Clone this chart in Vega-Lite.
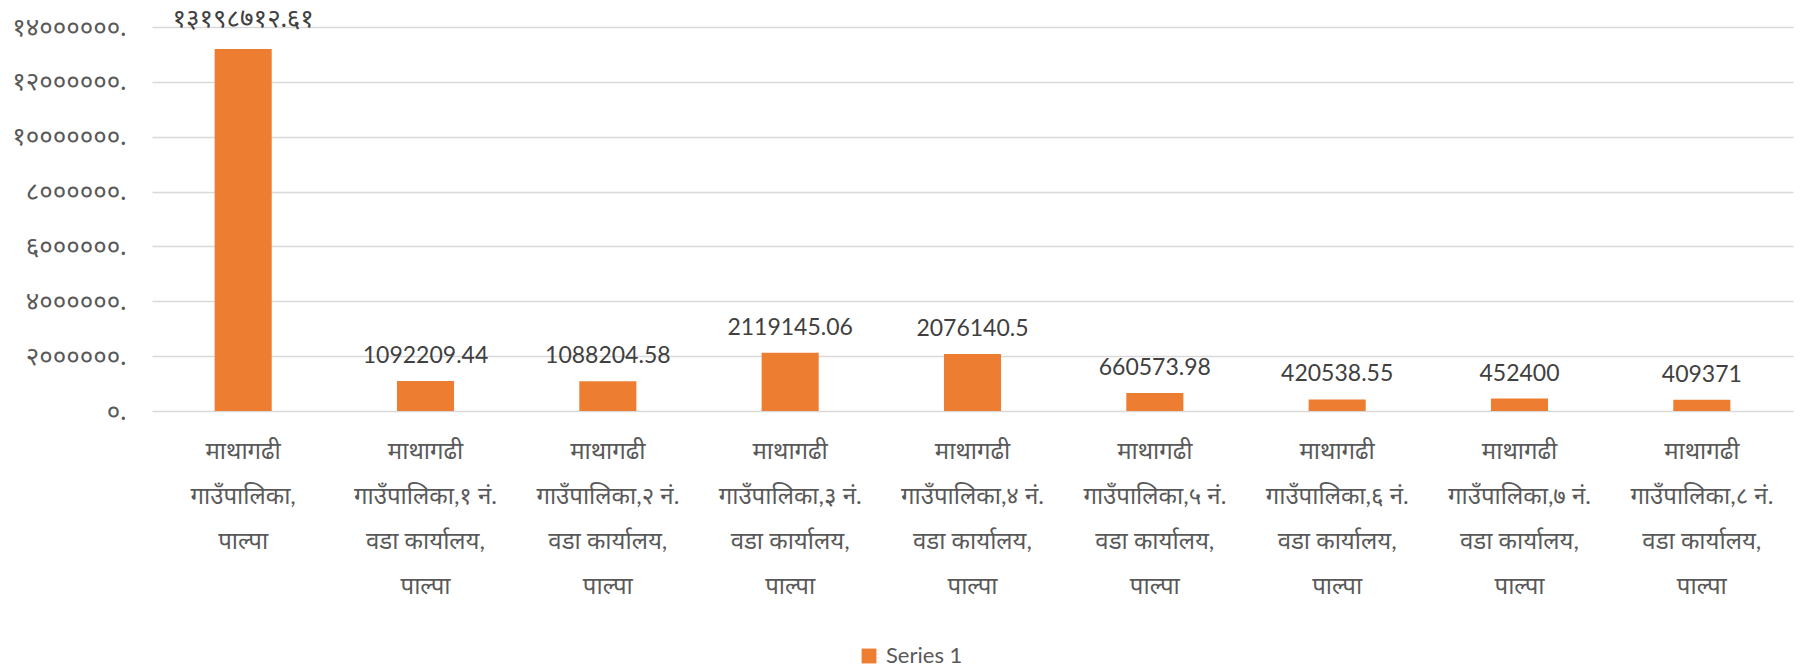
{
  "$schema": "https://vega.github.io/schema/vega-lite/v6.json",
  "autosize": "none",
  "width": 1641,
  "height": 384,
  "padding": {"left": 152, "top": 27, "right": 20, "bottom": 260},
  "background": "white",
  "config": {
    "font": "Lato, Noto Sans, sans-serif",
    "view": {"stroke": null}
  },
  "data": {
    "values": [
      {"office": "माथागढी\nगाउँपालिका,\nपाल्पा", "amount": 13198712.61, "label": "१३१९८७१२.६१"},
      {"office": "माथागढी\nगाउँपालिका,१ नं.\nवडा कार्यालय,\nपाल्पा", "amount": 1092209.44, "label": "1092209.44"},
      {"office": "माथागढी\nगाउँपालिका,२ नं.\nवडा कार्यालय,\nपाल्पा", "amount": 1088204.58, "label": "1088204.58"},
      {"office": "माथागढी\nगाउँपालिका,३ नं.\nवडा कार्यालय,\nपाल्पा", "amount": 2119145.06, "label": "2119145.06"},
      {"office": "माथागढी\nगाउँपालिका,४ नं.\nवडा कार्यालय,\nपाल्पा", "amount": 2076140.5, "label": "2076140.5"},
      {"office": "माथागढी\nगाउँपालिका,५ नं.\nवडा कार्यालय,\nपाल्पा", "amount": 660573.98, "label": "660573.98"},
      {"office": "माथागढी\nगाउँपालिका,६ नं.\nवडा कार्यालय,\nपाल्पा", "amount": 420538.55, "label": "420538.55"},
      {"office": "माथागढी\nगाउँपालिका,७ नं.\nवडा कार्यालय,\nपाल्पा", "amount": 452400, "label": "452400"},
      {"office": "माथागढी\nगाउँपालिका,८ नं.\nवडा कार्यालय,\nपाल्पा", "amount": 409371, "label": "409371"}
    ]
  },
  "encoding": {
    "x": {
      "field": "office",
      "type": "nominal",
      "sort": null,
      "scale": {"paddingInner": 0.687, "paddingOuter": 0.3435},
      "axis": {
        "title": null,
        "domain": false,
        "ticks": false,
        "labelAngle": 0,
        "labelFontSize": 24,
        "labelColor": "#595959",
        "labelPadding": 40,
        "labelLimit": 0,
        "labelLineHeight": 45,
        "labelOverlap": false,
        "labelBaseline": "middle",
        "labelExpr": "split(datum.label, '\\n')"
      }
    },
    "y": {
      "field": "amount",
      "type": "quantitative",
      "scale": {"domain": [0, 14000000], "nice": false},
      "axis": {
        "title": null,
        "domain": false,
        "ticks": false,
        "values": [0, 2000000, 4000000, 6000000, 8000000, 10000000, 12000000, 14000000],
        "labelFontSize": 26,
        "labelColor": "#595959",
        "labelPadding": 26,
        "gridColor": "#d9d9d9",
        "gridWidth": 1.5,
        "labelExpr": "replace(replace(replace(replace(replace(replace(replace(replace(replace(replace(format(datum.value,'d') + '.', regexp('0','g'), '०'), regexp('1','g'), '१'), regexp('2','g'), '२'), regexp('3','g'), '३'), regexp('4','g'), '४'), regexp('5','g'), '५'), regexp('6','g'), '६'), regexp('7','g'), '७'), regexp('8','g'), '८'), regexp('9','g'), '९')"
      }
    }
  },
  "layer": [
    {
      "mark": {"type": "bar"},
      "encoding": {
        "color": {
          "datum": "Series 1",
          "type": "nominal",
          "scale": {"range": ["#ED7D31"]},
          "legend": {
            "title": null,
            "orient": "none",
            "legendX": 706,
            "legendY": 618,
            "symbolType": "square",
            "symbolSize": 220,
            "symbolStrokeWidth": 0,
            "labelFontSize": 22,
            "labelColor": "#595959",
            "labelOffset": 6
          }
        }
      }
    },
    {
      "transform": [{"filter": "test(regexp('[0-9]'), datum.label)"}],
      "mark": {"type": "text", "baseline": "middle", "dy": -25, "color": "#404040", "fontSize": 23},
      "encoding": {"text": {"field": "label"}}
    },
    {
      "transform": [{"filter": "!test(regexp('[0-9]'), datum.label)"}],
      "mark": {"type": "text", "baseline": "middle", "dy": -30, "color": "#404040", "fontSize": 26},
      "encoding": {"text": {"field": "label"}}
    }
  ]
}
